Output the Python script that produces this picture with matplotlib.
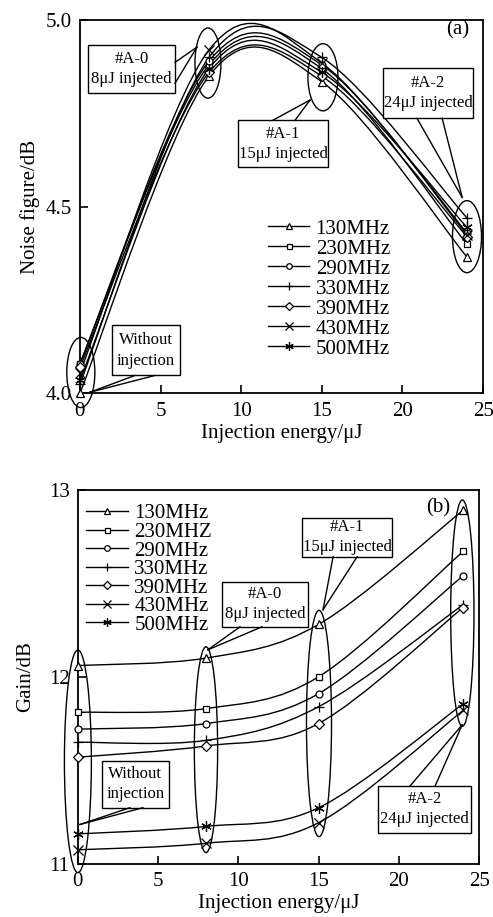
import numpy as np
import matplotlib
matplotlib.use("Agg")
import matplotlib.pyplot as plt
from matplotlib.path import Path
from matplotlib.patches import PathPatch, Ellipse, Rectangle
from matplotlib.lines import Line2D

plt.rcParams['font.family'] = ['Liberation Serif', 'DejaVu Serif']
plt.rcParams['mathtext.fontset'] = 'stix'

# ---------------- data ----------------
energy = [0, 8, 15, 24]

nf_labels = ['130MHz', '230MHz', '290MHz', '330MHz', '390MHz', '430MHz', '500MHz']
nf_130 = [4.00, 4.85, 4.835, 4.365]
nf_230 = [4.08, 4.88, 4.87, 4.40]
nf_290 = [4.08, 4.89, 4.88, 4.43]
nf_330 = [4.025, 4.90, 4.90, 4.47]
nf_390 = [4.07, 4.86, 4.85, 4.42]
nf_430 = [4.055, 4.92, 4.885, 4.425]
nf_500 = [4.035, 4.87, 4.86, 4.445]
nf_series = [nf_130, nf_230, nf_290, nf_330, nf_390, nf_430, nf_500]

gain_labels = ['130MHz', '230MHZ', '290MHz', '330MHz', '390MHz', '430MHz', '500MHz']
g_130 = [12.06, 12.10, 12.28, 12.89]
g_230 = [11.81, 11.83, 12.00, 12.67]
g_290 = [11.72, 11.75, 11.91, 12.54]
g_330 = [11.65, 11.66, 11.84, 12.385]
g_390 = [11.57, 11.63, 11.75, 12.37]
g_430 = [11.075, 11.11, 11.22, 11.82]
g_500 = [11.16, 11.20, 11.30, 11.855]
gain_series = [g_130, g_230, g_290, g_330, g_390, g_430, g_500]

markers = ['^', 's', 'o', '+', 'D', 'x', (6, 2, 0)]
msizes = [6, 4.5, 5, 7, 5, 7, 7.5]

x_ticks = [0, 5, 10, 15, 20, 25]


def smooth_path(x, y):
    pts = np.column_stack([x, y]).astype(float)
    n = len(pts)
    verts = [pts[0]]
    codes = [Path.MOVETO]
    for i in range(n - 1):
        p0 = pts[max(i - 1, 0)]
        p1 = pts[i]
        p2 = pts[i + 1]
        p3 = pts[min(i + 2, n - 1)]
        c1 = p1 + (p2 - p0) / 6.0
        c2 = p2 - (p3 - p1) / 6.0
        verts += [c1, c2, p2]
        codes += [Path.CURVE4] * 3
    return Path(verts, codes)


def draw_series(ax, series):
    for s, m, ms in zip(series, markers, msizes):
        ax.add_patch(PathPatch(smooth_path(energy, s), fill=False, lw=1.0,
                               ec='black', zorder=3))
        ax.plot(energy, s, ls='none', marker=m, ms=ms, mfc='white', mec='black',
                mew=0.9, zorder=4, clip_on=False)


def callout(ax, box, base, tip, text, fs=12):
    (x0, x1, y0, y1) = box
    ax.add_patch(Rectangle((x0, y0), x1 - x0, y1 - y0, fc='white', ec='black',
                           lw=1.0, zorder=6, clip_on=False))
    for b in base:
        ax.add_line(Line2D([b[0], tip[0]], [b[1], tip[1]], color='black', lw=1.0,
                           zorder=6, clip_on=False))
    ax.text((x0 + x1) / 2, (y0 + y1) / 2, text, ha='center', va='center',
            fontsize=fs, zorder=7, linespacing=1.35)


def ell(ax, cx, cy, w, h):
    ax.add_patch(Ellipse((cx, cy), w, h, fill=False, ec='black', lw=1.0,
                         zorder=5, clip_on=False))


def legend_handles(labels):
    hs = []
    for lab, m, ms in zip(labels, markers, msizes):
        hs.append(Line2D([0], [0], color='black', lw=1.0, marker=m, ms=ms * 0.8,
                         mfc='white', mec='black', mew=0.9, label=lab))
    return hs


def style_axes(ax):
    for sp in ax.spines.values():
        sp.set_linewidth(1.3)
    ax.tick_params(direction='in', length=6, width=1.2, labelsize=15, pad=6)
    ax.set_xticks(x_ticks)
    ax.set_xlim(0, 25)


fig = plt.figure(figsize=(4.93, 9.17), dpi=100)

# ---------------- (a) ----------------
ax1 = fig.add_axes([0.162, 0.571, 0.818, 0.407])
style_axes(ax1)
ax1.set_ylim(4.0, 5.0)
ax1.set_yticks([4.0, 4.5, 5.0])
ax1.set_yticklabels(['4.0', '4.5', '5.0'])
draw_series(ax1, nf_series)
ax1.set_xlabel('Injection energy/\u03bcJ', fontsize=15, labelpad=2)
ax1.set_ylabel('Noise figure/dB', fontsize=15, labelpad=4)
ax1.text(23.45, 4.973, '(a)', fontsize=15, ha='center', va='center')

ell(ax1, 0.06, 4.056, 1.74, 0.188)
ell(ax1, 7.94, 4.885, 1.61, 0.188)
ell(ax1, 15.07, 4.847, 1.86, 0.18)
ell(ax1, 24.0, 4.42, 1.8, 0.193)
callout(ax1, (0.5, 5.9, 4.804, 4.933), [(5.9, 4.887), (5.9, 4.831)], (7.26, 4.928),
        '#A-0\n8\u03bcJ injected')
callout(ax1, (9.8, 15.38, 4.606, 4.732), [(11.97, 4.732), (13.34, 4.732)], (14.27, 4.786),
        '#A-1\n15\u03bcJ injected')
callout(ax1, (18.8, 24.38, 4.737, 4.871), [(20.9, 4.737), (22.46, 4.737)], (23.7, 4.525),
        '#A-2\n24\u03bcJ injected')
callout(ax1, (1.99, 6.2, 4.048, 4.182), [(3.41, 4.048), (4.65, 4.048)], (0.62, 4.003),
        'Without\ninjection')

ax1.legend(handles=legend_handles(nf_labels), loc='upper left',
           bbox_to_anchor=(0.44, 0.495), frameon=False, fontsize=15,
           handlelength=2.0, handletextpad=0.3, labelspacing=0.02,
           borderpad=0.0)

# ---------------- (b) ----------------
ax2 = fig.add_axes([0.158, 0.058, 0.814, 0.408])
style_axes(ax2)
ax2.set_ylim(11, 13)
ax2.set_yticks([11, 12, 13])
draw_series(ax2, gain_series)
ax2.set_xlabel('Injection energy/\u03bcJ', fontsize=15, labelpad=2)
ax2.set_ylabel('Gain/dB', fontsize=15, labelpad=10)
ax2.text(22.44, 12.904, '(b)', fontsize=15, ha='center', va='center')

ell(ax2, 0.0, 11.548, 1.68, 1.19)
ell(ax2, 7.98, 11.61, 1.45, 1.10)
ell(ax2, 15.02, 11.75, 1.56, 1.21)
ell(ax2, 23.95, 12.34, 1.45, 1.21)
callout(ax2, (8.98, 14.34, 12.267, 12.508), [(10.1, 12.267), (11.47, 12.267)], (8.1, 12.144),
        '#A-0\n8\u03bcJ injected')
callout(ax2, (13.97, 19.58, 12.642, 12.85), [(15.9, 12.642), (17.4, 12.642)], (15.27, 12.358),
        '#A-1\n15\u03bcJ injected')
callout(ax2, (18.7, 24.5, 11.166, 11.417), [(20.7, 11.417), (22.26, 11.417)], (23.94, 11.743),
        '#A-2\n24\u03bcJ injected')
callout(ax2, (1.5, 5.67, 11.30, 11.551), [(3.24, 11.30), (4.05, 11.30)], (0.12, 11.21),
        'Without\ninjection')

ax2.legend(handles=legend_handles(gain_labels), loc='upper left',
           bbox_to_anchor=(-0.005, 0.99), frameon=False, fontsize=15,
           handlelength=2.0, handletextpad=0.3, labelspacing=-0.05,
           borderpad=0.0)

fig.savefig('out.png', dpi=100)
